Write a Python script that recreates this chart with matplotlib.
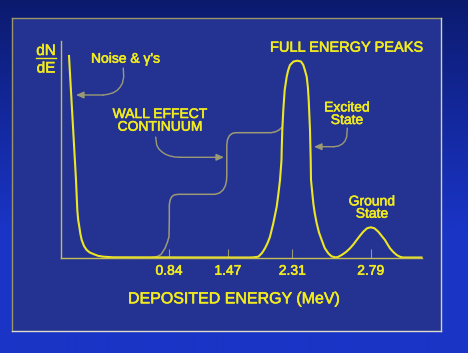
import numpy as np
import matplotlib
matplotlib.use("Agg")
import matplotlib.pyplot as plt
from matplotlib.patches import Rectangle
import matplotlib.patheffects as pe

# ---------------- data (channel units, counts in arbitrary units) ----------------
noise_channel = [8.5, 12.0, 15.5, 16.8, 17.7, 18.8, 19.9, 21.2, 23.5, 26.2, 29.3, 32.8,
                 37.5, 42.8, 52.5]
noise_counts = [201.5, 139.5, 77.5, 47.5, 37.5, 30.8, 23.5, 17.5, 11.5, 7.5, 5.0, 3.5,
                1.7, 0.8, 0.2]

excited_channel = [189.5, 193.5, 197.8, 201.5, 204.5, 207.3, 209.5, 212.8, 216.2, 218.0,
                   219.5, 221.0, 221.2, 221.8, 222.8, 224.2, 226.2, 227.6, 229.5, 233.0,
                   236.8, 240.5, 242.8, 244.5, 246.2, 247.4, 248.2, 249.5, 250.2, 250.5,
                   252.8, 254.3, 256.2, 258.5, 261.2, 264.2, 267.8, 271.0, 274.5]
excited_counts = [0.0, 0.2, 0.8, 4.5, 9.2, 15.0, 20.8, 34.2, 50.8, 64.5,
                  77.5, 97.5, 107.5, 127.5, 147.5, 167.5, 180.8, 187.0, 192.5, 196.0,
                  196.8, 196.0, 192.5, 187.0, 180.8, 170.0, 157.5, 127.5, 97.5, 77.5,
                  54.2, 44.0, 34.2, 25.0, 17.5, 9.5, 4.2, 1.2, 0.2]

ground_channel = [277.0, 281.2, 285.5, 289.5, 293.0, 296.2, 299.5, 302.8, 306.5, 310.2,
                  314.0, 317.8, 321.0, 324.5, 327.0, 329.5, 332.8, 336.2, 339.5, 342.5, 361.0]
ground_counts = [0.3, 2.5, 5.5, 9.2, 13.2, 17.5, 21.8, 25.8, 29.2, 30.2,
                 29.2, 25.8, 21.8, 17.5, 13.2, 9.2, 5.5, 2.5, 0.7, 0.0, 0.0]

wall_channel = [91.5, 96.2, 100.5, 104.5, 107.0, 108.5, 108.8, 108.8, 109.5, 111.0,
                113.5, 117.5, 154.5, 159.0, 162.5, 164.8, 166.0, 166.3, 166.3, 167.0,
                169.0, 172.0, 175.5, 210.5, 215.0, 218.5, 221.8]
wall_counts = [0.0, 0.8, 3.0, 9.2, 15.5, 20.8, 37.5, 52.5, 57.0, 60.5,
               62.5, 63.2, 63.2, 64.5, 67.5, 71.5, 76.5, 82.5, 112.5, 118.0,
               122.0, 124.2, 124.8, 124.8, 125.7, 127.5, 130.5]

tick_channel = [108.5, 167.3, 231.8, 310.2]
tick_labels = ["0.84", "1.47", "2.31", "2.79"]

# annotation leader lines (channel, counts)
noise_arrow_x = [62.8, 63.2, 62.0, 59.5, 56.5, 52.8, 47.5, 42.8, 15.5]
noise_arrow_y = [189.2, 180.8, 174.5, 170.2, 167.0, 164.8, 163.2, 162.5, 162.5]
wall_arrow_x = [95.2, 96.2, 98.2, 101.2, 105.0, 109.5, 114.5, 119.5, 163.5]
wall_arrow_y = [120.2, 112.5, 108.7, 105.8, 103.2, 101.5, 100.5, 100.2, 100.2]
excited_arrow_x = [286.8, 286.2, 284.5, 281.8, 278.0, 273.5, 253.5]
excited_arrow_y = [129.2, 120.8, 116.5, 113.5, 111.5, 110.8, 110.8]

# ---------------- style ----------------
FONT = "Liberation Sans"
YELLOW = "#f2ec1e"
CURVE = "#ece624"
GRAY = "#9b9a74"
AXIS = "#c4bd55"
PANEL = "#243391"
W, H = 468, 353

fig = plt.figure(figsize=(W / 100, H / 100), dpi=100)

# background
bg = fig.add_axes([0, 0, 1, 1])
bg.set_xlim(0, W)
bg.set_ylim(H, 0)
bg.axis("off")
top = np.array([11, 26, 108]) / 255
bot = np.array([26, 52, 198]) / 255
t = np.clip(np.linspace(0, 1, H) * H / 230, 0, 1) ** 0.9
grad = top[None, :] * (1 - t[:, None]) + bot[None, :] * t[:, None]
img = np.repeat(grad[:, None, :], 4, axis=1)
bg.imshow(img, extent=(0, W, H, 0), aspect="auto", interpolation="bilinear")
bg.add_patch(Rectangle((12, 18), 429, 313, facecolor=PANEL, edgecolor="none"))
bg.plot([12, 441], [18, 18], color="#9a9668", lw=1.0)
bg.plot([12, 12], [18, 331], color="#9a9668", lw=1.0)
bg.plot([12, 441], [331, 331], color="#dcdccc", lw=1.0)
bg.plot([441, 441], [18, 331], color="#d4d2b0", lw=1.0)

# main axes
ax = fig.add_axes([60.5 / W, (H - 257.5) / H, 361 / W, 217 / H])
ax.set_facecolor("none")
ax.set_xlim(0, 361)
ax.set_ylim(0, 217)
for s in ["top", "right"]:
    ax.spines[s].set_visible(False)
for s in ["left", "bottom"]:
    ax.spines[s].set_color(AXIS)
    ax.spines[s].set_linewidth(1.0)
ax.set_yticks([])
ax.set_xticks(tick_channel)
ax.set_xticklabels(tick_labels)
ax.tick_params(axis="x", direction="in", length=6.5, width=0.8, color=GRAY,
               pad=4.5, labelsize=10, labelcolor=YELLOW)
STROKE = [pe.withStroke(linewidth=0.4, foreground=YELLOW)]
for lab in ax.get_xticklabels():
    lab.set_fontfamily(FONT)
    lab.set_path_effects(STROKE)

# continuum (wall effect)
ax.plot(wall_channel, wall_counts, color=GRAY, lw=1.1, solid_joinstyle="round",
        solid_capstyle="round")

# main spectrum
spec_x = noise_channel + excited_channel + ground_channel
spec_y = noise_counts + excited_counts + ground_counts
ax.plot(spec_x, spec_y, color=CURVE, lw=1.5, solid_joinstyle="round", clip_on=False)

# leader arrows
for xs, ys in [(noise_arrow_x, noise_arrow_y), (wall_arrow_x, wall_arrow_y),
               (excited_arrow_x, excited_arrow_y)]:
    ax.plot(xs[:-1], ys[:-1], color=GRAY, lw=1.0, solid_joinstyle="round")
    ax.annotate("", xy=(xs[-1], ys[-1]), xytext=(xs[-2], ys[-2]),
                arrowprops=dict(arrowstyle="-|>,head_length=0.45,head_width=0.2",
                                color=GRAY, lw=1.0, shrinkA=0, shrinkB=0,
                                mutation_scale=10))

# texts (pixel positions -> figure fraction); py is the baseline of the last line
def ftext(px, py, s, size, ls=1.2):
    fig.text(px / W, 1 - py / H, s, fontsize=size, color=YELLOW, family=FONT,
             ha="center", va="baseline", multialignment="center", linespacing=ls,
             path_effects=STROKE)

ftext(46, 55, "dN", 11)
ftext(46, 72.5, "dE", 11)
bg.plot([36, 56], [58, 58], color=YELLOW, lw=1.0)

ftext(125.5, 62.7, "Noise & \u03b3's", 10)
ftext(160, 130.7, "WALL EFFECT\nCONTINUUM", 10, ls=0.88)
ftext(347, 51.7, "FULL ENERGY PEAKS", 10.5)
ftext(347, 124, "Excited\nState", 10, ls=0.87)
ftext(372, 217.7, "Ground\nState", 10, ls=0.85)
ftext(234, 303.3, "DEPOSITED ENERGY (MeV)", 11.5)

fig.savefig("out.png", dpi=100)
